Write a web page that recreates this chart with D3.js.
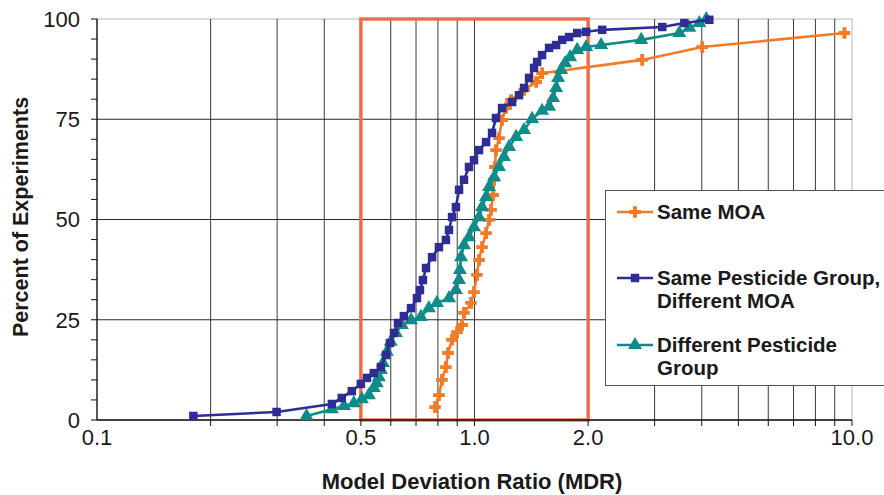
<!DOCTYPE html>
<html>
<head>
<meta charset="utf-8">
<script src="https://cdn.jsdelivr.net/npm/d3@7"></script>
<style>
  html, body { margin: 0; padding: 0; background: #fff; }
  svg { display: block; }
  text { font-family: "Liberation Sans", Arial, sans-serif; fill: #1a1a1a; }
</style>
</head>
<body>
<svg id="chart" width="884" height="495"></svg>
<script>
// Cumulative distributions of model deviation ratio (MDR), one per comparison group
const sameMoaMdr = [0.786, 0.805, 0.820, 0.840, 0.851, 0.872, 0.899, 0.927, 0.938, 0.979,
  0.997, 1.015, 1.028, 1.047, 1.073, 1.093, 1.106, 1.120, 1.127, 1.133, 1.140, 1.161,
  1.183, 1.212, 1.250, 1.353, 1.456, 1.510, 2.78, 4.01, 9.55];
const sameMoaPct = [3.2, 6.2, 10.0, 13.2, 16.7, 20.0, 21.9, 23.7, 26.7, 29.2,
  31.9, 36.2, 39.9, 43.1, 46.6, 49.9, 52.4, 56.1, 59.9, 63.1, 67.3, 70.3,
  74.8, 77.8, 79.8, 82.3, 84.3, 86.5, 89.8, 93.0, 96.5];

const sameGroupMdr = [0.180, 0.299, 0.419, 0.445, 0.473, 0.500, 0.519, 0.541, 0.565, 0.583,
  0.597, 0.612, 0.627, 0.650, 0.679, 0.704, 0.717, 0.730, 0.744, 0.772, 0.805, 0.840,
  0.856, 0.872, 0.893, 0.910, 0.938, 0.967, 0.997, 1.028, 1.073, 1.113, 1.140, 1.183,
  1.258, 1.312, 1.353, 1.395, 1.438, 1.465, 1.510, 1.576, 1.645, 1.707, 1.781, 1.871,
  1.976, 2.179, 3.143, 3.596, 4.188];
const sameGroupPct = [1.0, 2.0, 4.0, 5.5, 7.2, 9.0, 10.5, 11.7, 13.2, 16.2,
  19.2, 21.7, 24.2, 25.9, 27.9, 30.4, 32.4, 34.9, 37.9, 40.6, 43.1, 44.9,
  47.4, 50.6, 53.1, 57.4, 59.9, 63.1, 64.8, 67.3, 69.3, 71.6, 75.3, 77.8,
  79.3, 81.0, 82.8, 85.3, 87.8, 89.3, 91.0, 92.8, 93.5, 94.8, 95.5, 96.5,
  96.8, 97.3, 98.0, 99.0, 99.8];

const diffGroupMdr = [0.359, 0.419, 0.451, 0.479, 0.503, 0.525, 0.541, 0.551, 0.558, 0.565,
  0.572, 0.586, 0.600, 0.619, 0.642, 0.679, 0.721, 0.757, 0.795, 0.856, 0.893, 0.910,
  0.915, 0.921, 0.938, 0.967, 0.997, 1.028, 1.047, 1.073, 1.093, 1.127, 1.161, 1.197,
  1.235, 1.289, 1.353, 1.421, 1.510, 1.576, 1.615, 1.645, 1.665, 1.696, 1.738, 1.792,
  1.871, 1.976, 2.165, 2.765, 3.487, 3.707, 3.940, 4.113];
const diffGroupPct = [1.0, 2.7, 3.5, 4.2, 5.2, 6.2, 8.0, 9.2, 10.7, 12.5,
  14.2, 17.0, 19.5, 21.7, 23.7, 24.9, 25.7, 27.9, 29.2, 30.4, 32.4, 34.9,
  37.4, 40.6, 43.6, 45.6, 48.1, 50.6, 53.1, 55.6, 58.1, 60.6, 63.1, 65.6,
  68.1, 70.6, 72.3, 75.1, 77.1, 78.1, 80.3, 82.8, 85.3, 87.3, 89.0, 90.5,
  92.3, 93.0, 93.5, 94.8, 96.5, 97.8, 99.0, 100.0];

const seriesNames = ["Same MOA", "Same Pesticide Group, Different MOA", "Different Pesticide Group"];
const legendLines = [["Same MOA"], ["Same Pesticide Group,", "Different MOA"], ["Different Pesticide", "Group"]];

const xTickLabels = [0.1, 0.5, 1.0, 2.0, 10.0];
const xGridValues = [0.2, 0.3, 0.4, 0.5, 0.6, 0.7, 0.8, 0.9, 1, 2, 3, 4, 5, 6, 7, 8, 9, 10];
const yTickLabels = [0, 25, 50, 75, 100];
const yMinorTicks = d3.range(0, 101, 5);
const targetBand = [0.5, 2.0];

const colors = ["#f47a26", "#2e2d94", "#0f8c8a"];
const bandColor = "#f0694a";

const svg = d3.select("#chart");
const x = d3.scaleLog().domain([0.1, 10]).range([97, 852]);
const y = d3.scaleLinear().domain([0, 100]).range([420, 19]);

// Plot frame (light top/right edges)
svg.append("rect")
  .attr("x", x(0.1)).attr("y", y(100))
  .attr("width", x(10) - x(0.1)).attr("height", y(0) - y(100))
  .attr("fill", "#fff").attr("stroke", "#c4c4c4").attr("stroke-width", 1.2);

// Grid lines
const grid = svg.append("g");
grid.selectAll("line.v").data(xGridValues.slice(0, -1)).join("line")
  .attr("x1", d => x(d)).attr("x2", d => x(d))
  .attr("y1", y(0)).attr("y2", y(100))
  .attr("stroke", "#3a3a3a").attr("stroke-width", 1);
grid.selectAll("line.h").data([25, 50, 75]).join("line")
  .attr("x1", x(0.1)).attr("x2", x(10))
  .attr("y1", d => y(d)).attr("y2", d => y(d))
  .attr("stroke", "#2a2a2a").attr("stroke-width", 1);

// Target band 0.5–2.0
svg.append("rect")
  .attr("x", x(targetBand[0])).attr("y", y(100))
  .attr("width", x(targetBand[1]) - x(targetBand[0])).attr("height", y(0) - y(100))
  .attr("fill", "none").attr("stroke", bandColor).attr("stroke-width", 3.4);

// Axes
const yAxis = svg.append("g");
yAxis.append("line").attr("x1", x(0.1)).attr("x2", x(0.1)).attr("y1", y(0)).attr("y2", y(100))
  .attr("stroke", "#111").attr("stroke-width", 1.3);
yAxis.selectAll("line.t").data(yMinorTicks).join("line")
  .attr("x1", x(0.1) - 6).attr("x2", x(0.1))
  .attr("y1", d => y(d)).attr("y2", d => y(d))
  .attr("stroke", "#111").attr("stroke-width", 1);
yAxis.selectAll("text").data(yTickLabels).join("text")
  .attr("x", 80).attr("y", d => y(d)).attr("dy", "0.36em")
  .attr("text-anchor", "end").attr("font-size", 22).text(d => d);

const xAxis = svg.append("g");
xAxis.append("line").attr("x1", x(0.1)).attr("x2", x(10)).attr("y1", y(0)).attr("y2", y(0))
  .attr("stroke", "#111").attr("stroke-width", 1.3);
xAxis.selectAll("line.t").data(xGridValues).join("line")
  .attr("x1", d => x(d)).attr("x2", d => x(d))
  .attr("y1", y(0)).attr("y2", y(0) + 6)
  .attr("stroke", "#111").attr("stroke-width", 1);
xAxis.selectAll("text").data(xTickLabels).join("text")
  .attr("x", d => x(d)).attr("y", 445)
  .attr("text-anchor", "middle").attr("font-size", 22).text(d => d.toFixed(1));

// Axis titles
svg.append("text").attr("x", 472).attr("y", 489).attr("text-anchor", "middle")
  .attr("font-size", 22).attr("font-weight", "bold").text("Model Deviation Ratio (MDR)");
svg.append("text").attr("transform", "translate(28,217) rotate(-90)").attr("text-anchor", "middle")
  .attr("font-size", 21.5).attr("font-weight", "bold").text("Percent of Experiments");

// Series
const symbols = [d3.symbolCross, d3.symbolSquare, d3.symbolTriangle];
const symbolSizes = [75, 72, 85];
const seriesData = [
  d3.zip(sameMoaMdr, sameMoaPct),
  d3.zip(sameGroupMdr, sameGroupPct),
  d3.zip(diffGroupMdr, diffGroupPct)
];
const line = d3.line().x(d => x(d[0])).y(d => y(d[1]));
const drawOrder = [0, 2, 1];
drawOrder.forEach(i => {
  const g = svg.append("g");
  g.append("path").datum(seriesData[i]).attr("d", line)
    .attr("fill", "none").attr("stroke", colors[i]).attr("stroke-width", 2.6);
  g.selectAll("path.m").data(seriesData[i]).join("path")
    .attr("transform", d => `translate(${x(d[0])},${y(d[1])})`)
    .attr("d", d3.symbol(symbols[i], symbolSizes[i]))
    .attr("fill", colors[i]);
});

// Legend
const legend = svg.append("g");
legend.append("rect").attr("x", 605.5).attr("y", 190.5).attr("width", 300).attr("height", 195)
  .attr("fill", "#fff").attr("stroke", "#555").attr("stroke-width", 1);
const legendY = [212, 278, 345];
legendLines.forEach((lines, i) => {
  const gy = legendY[i];
  legend.append("line").attr("x1", 617).attr("x2", 653).attr("y1", gy).attr("y2", gy)
    .attr("stroke", colors[i]).attr("stroke-width", 2.6);
  legend.append("path").attr("transform", `translate(635,${gy})`)
    .attr("d", d3.symbol(symbols[i], symbolSizes[i])).attr("fill", colors[i]);
  lines.forEach((t, k) => {
    legend.append("text").attr("x", 657).attr("y", gy + k * 23).attr("dy", "0.36em")
      .attr("font-size", 20.5).attr("font-weight", "bold").text(t);
  });
});
</script>
</body>
</html>
